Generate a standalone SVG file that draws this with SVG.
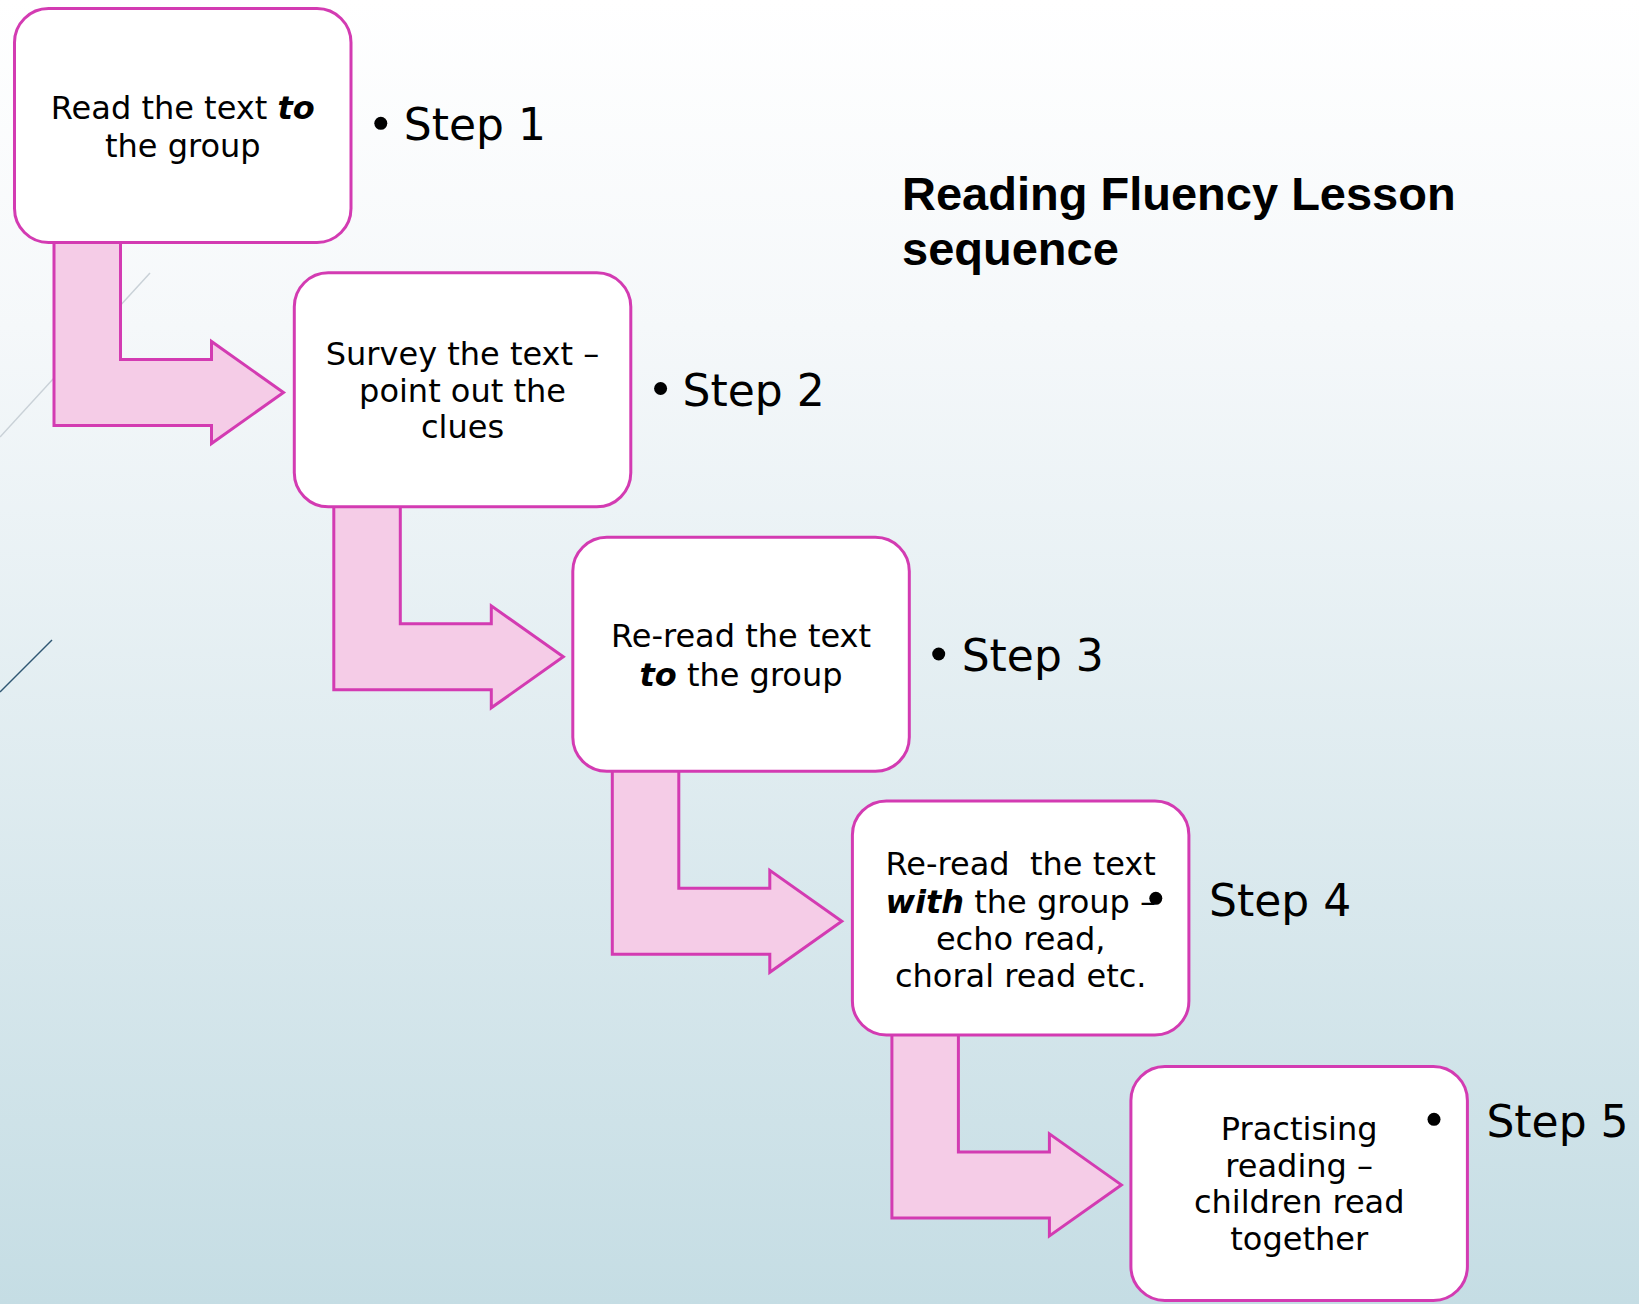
<svg xmlns="http://www.w3.org/2000/svg" width="1639" height="1304" viewBox="0 0 1639 1304">
<defs>
<linearGradient id="bg" x1="0" y1="0" x2="0" y2="1">
<stop offset="0" stop-color="#ffffff"/>
<stop offset="0.25" stop-color="#f5f8fa"/>
<stop offset="1" stop-color="#c5dde4"/>
</linearGradient>
<path id="bend" d="M39.5,225 V417 H197 V435 L269,384 L197,333 V351 H106 V225 Z"/>
<style>
.box{fill:#ffffff;stroke:#d33bb2;stroke-width:3}
.arr{fill:#f5cce7;stroke:#d33bb2;stroke-width:3;stroke-linejoin:miter}
.t{font-family:"DejaVu Sans",sans-serif;font-size:32px;fill:#000;text-anchor:middle}
.bi{font-weight:bold;font-style:italic}
.step{font-family:"DejaVu Sans",sans-serif;font-size:44px;fill:#000}
.title{font-family:"Liberation Sans",Arial,sans-serif;font-size:47px;font-weight:bold;fill:#000}
</style>
</defs>
<rect x="0" y="0" width="1639" height="1304" fill="url(#bg)"/>
<line x1="150" y1="273" x2="0" y2="437" stroke="#c9d1d7" stroke-width="1.5"/>
<line x1="52" y1="640" x2="0" y2="692" stroke="#2f5773" stroke-width="1.5"/>

<g id="connectors">
<use href="#bend" class="arr" transform="translate(14.5,8.5)"/>
<use href="#bend" class="arr" transform="translate(294.3,272.8)"/>
<use href="#bend" class="arr" transform="translate(572.8,537.3)"/>
<use href="#bend" class="arr" transform="translate(852.4,800.9)"/>
</g>

<g id="node1">
<rect class="box" x="14.5" y="8.5" width="336.5" height="234" rx="34"/>
<text class="t" x="182.75" y="118.5">Read the text <tspan class="bi">to</tspan></text>
<text class="t" x="182.75" y="157">the group</text>
</g>
<g id="node2">
<rect class="box" x="294.3" y="272.8" width="336.5" height="234" rx="34"/>
<text class="t" x="462.5" y="365">Survey the text –</text>
<text class="t" x="462.5" y="401.7">point out the</text>
<text class="t" x="462.5" y="438.3">clues</text>
</g>
<g id="node3">
<rect class="box" x="572.8" y="537.3" width="336.5" height="234" rx="34"/>
<text class="t" x="741" y="647">Re-read the text</text>
<text class="t" x="741" y="685.7"><tspan class="bi">to</tspan> the group</text>
</g>
<g id="node4">
<rect class="box" x="852.4" y="800.9" width="336.5" height="234" rx="34"/>
<text class="t" x="1020.7" y="875" xml:space="preserve">Re-read  the text</text>
<text class="t" x="1020.7" y="912.5"><tspan class="bi">with</tspan> the group –</text>
<text class="t" x="1020.7" y="950">echo read,</text>
<text class="t" x="1020.7" y="986.7">choral read etc.</text>
</g>
<g id="node5">
<rect class="box" x="1130.9" y="1066.5" width="336.5" height="234" rx="34"/>
<text class="t" x="1299.2" y="1140">Practising</text>
<text class="t" x="1299.2" y="1176.7">reading –</text>
<text class="t" x="1299.2" y="1213.3">children read</text>
<text class="t" x="1299.2" y="1250">together</text>
</g>

<g id="steps">
<circle cx="380.8" cy="123.3" r="6.5"/>
<text class="step" x="403.8" y="140">Step 1</text>
<circle cx="660.6" cy="388.5" r="6.5"/>
<text class="step" x="682.6" y="405.5">Step 2</text>
<circle cx="938.7" cy="654" r="6.5"/>
<text class="step" x="961.7" y="671">Step 3</text>
<circle cx="1155.8" cy="898.3" r="6.5"/>
<text class="step" x="1209" y="915.5">Step 4</text>
<circle cx="1434" cy="1119.3" r="6.5"/>
<text class="step" x="1486.4" y="1136.7">Step 5</text>
</g>

<g id="title">
<text class="title" x="902" y="210">Reading Fluency Lesson</text>
<text class="title" x="902" y="265">sequence</text>
</g>
</svg>
